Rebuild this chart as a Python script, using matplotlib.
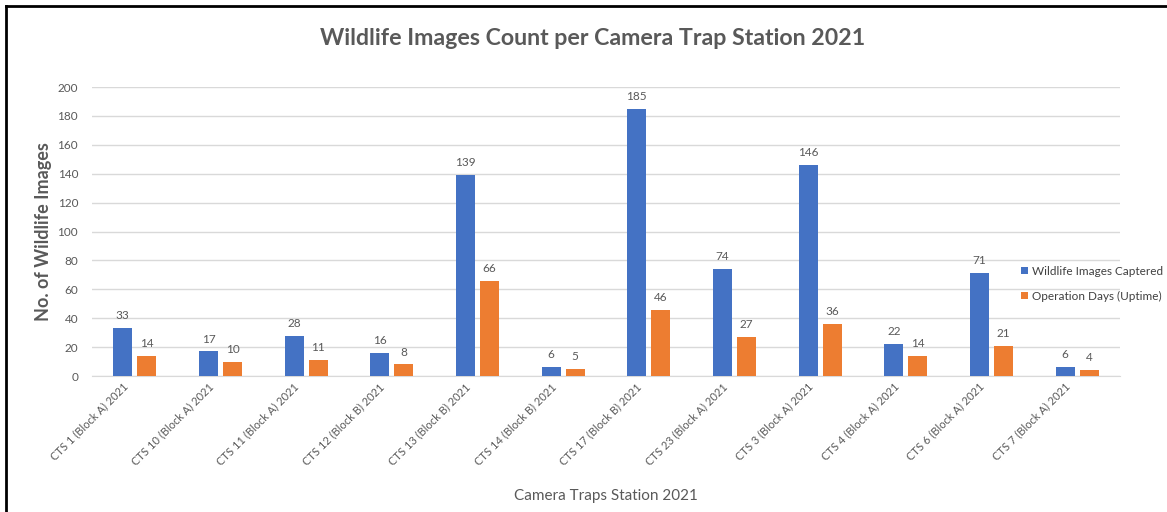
import numpy as np
import matplotlib
matplotlib.use('Agg')
import matplotlib.pyplot as plt
from matplotlib.lines import Line2D

# Station names and counts per station.
stations = ['CTS 1 (Block A) 2021', 'CTS 10 (Block A) 2021',
            'CTS 11 (Block A) 2021', 'CTS 12 (Block B) 2021',
            'CTS 13 (Block B) 2021', 'CTS 14 (Block B) 2021',
            'CTS 17 (Block B) 2021', 'CTS 23 (Block A) 2021',
            'CTS 3 (Block A) 2021', 'CTS 4 (Block A) 2021',
            'CTS 6 (Block A) 2021', 'CTS 7 (Block A) 2021']
images_captured = [33, 17, 28, 16, 139, 6, 185, 74, 146, 22, 71, 6]
operation_days = [14, 10, 11, 8, 66, 5, 46, 27, 36, 14, 21, 4]
y_ticks = [0, 20, 40, 60, 80, 100, 120, 140, 160, 180, 200]

BLUE = '#4472C4'
ORANGE = '#ED7D31'
GREY = '#595959'
GRID = '#D9D9D9'

plt.rcParams['font.family'] = ['Lato', 'DejaVu Sans']

fig = plt.figure(figsize=(11.67, 5.12), dpi=100)
ax = fig.add_axes([0.0788, 0.2656, 0.8809, 0.5644])

ind = np.arange(len(stations))
width = 0.22
offset = 0.14
rects_img = ax.bar(ind - offset, images_captured, width, color=BLUE,
                   label='Wildlife Images Captered', zorder=3)
rects_days = ax.bar(ind + offset, operation_days, width, color=ORANGE,
                    label='Operation Days (Uptime)', zorder=3)

for rects in (rects_img, rects_days):
    ax.bar_label(rects, padding=5, fontsize=8.5, color=GREY)

ax.set_xlim(-0.5, len(stations) - 0.5)
ax.set_ylim(0, 200)
ax.set_yticks(y_ticks)
ax.yaxis.grid(True, color=GRID, linewidth=1, zorder=0)
ax.set_axisbelow(True)
for side in ('top', 'right', 'left'):
    ax.spines[side].set_visible(False)
ax.spines['bottom'].set_color(GRID)
ax.tick_params(axis='both', length=0, colors=GREY, labelsize=8.5)
ax.tick_params(axis='y', pad=10)
# rotated labels end slightly left of each group centre
ax.set_xticks(ind - 0.15)
ax.set_xticklabels(stations, rotation=45, ha='right',
                   rotation_mode='anchor', fontsize=8)

ax.set_ylabel('No. of Wildlife Images', fontsize=13, fontweight='bold',
              color=GREY, labelpad=4)
ax.set_xlabel('Camera Traps Station 2021', fontsize=11, color=GREY,
              labelpad=16)
fig.text(0.508, 0.925, 'Wildlife Images Count per Camera Trap Station 2021',
         ha='center', va='center', fontsize=16.7, fontweight='bold',
         color=GREY)

fig.legend(handles=[rects_img, rects_days], loc='center left',
           bbox_to_anchor=(0.866, 0.446), frameon=False, fontsize=8.5,
           handlelength=0.6, handleheight=0.6, handletextpad=0.3,
           labelspacing=1.2, labelcolor='#404040')

# frame lines along the left and top edges
fig.add_artist(Line2D([0.005, 0.005], [0, 0.988], color='black',
                      linewidth=2, transform=fig.transFigure))
fig.add_artist(Line2D([0.005, 1], [0.988, 0.988], color='black',
                      linewidth=2, transform=fig.transFigure))

fig.savefig('out.png', dpi=100)
